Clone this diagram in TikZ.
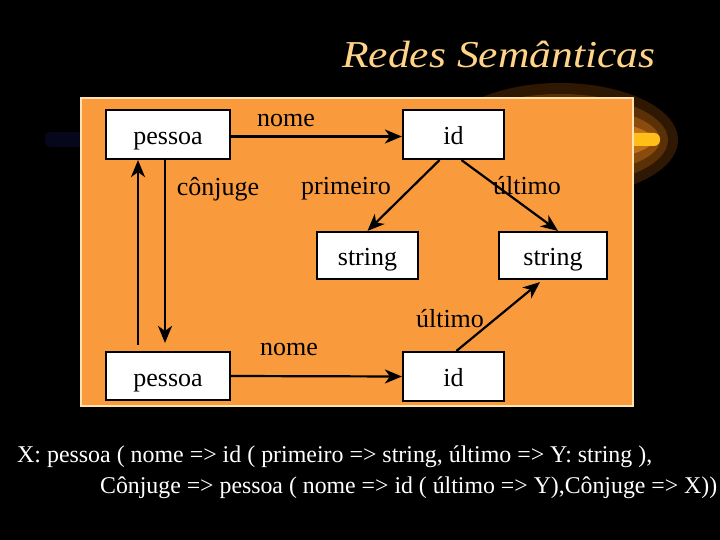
\documentclass[tikz,border=0pt]{standalone}
\usepackage{fontspec}
\setmainfont{Liberation Serif}
\usetikzlibrary{arrows.meta}
\definecolor{panel}{HTML}{F99A3C}
\definecolor{paneledge}{HTML}{FFE2B0}
\definecolor{titlecol}{HTML}{FFD488}
\definecolor{sw1}{HTML}{2E1703}
\definecolor{sw2}{HTML}{5A3006}
\definecolor{sw3}{HTML}{8A4C0C}
\definecolor{sw4}{HTML}{BE7016}
\definecolor{sw5}{HTML}{FFBE1A}
\definecolor{navy}{HTML}{07071C}
\begin{document}
\begin{tikzpicture}[x=1pt,y=-1pt,
  box/.style={draw=black,fill=white,line width=2.2pt,inner sep=0pt,
    text height=20pt,text depth=0pt,font=\fontsize{26}{30}\selectfont},
  lbl/.style={anchor=base,inner sep=0pt,font=\fontsize{26}{30}\selectfont},
  arr/.style={line width=2.2pt,-{Stealth[length=17pt,width=14pt,inset=5pt]}},
  bottomtxt/.style={anchor=base west,inner sep=0pt,text=white}]
\fill[black] (0,0) rectangle (720,540);
\useasboundingbox (0,0) rectangle (720,540);
% decorative swoosh
\fill[sw1] (560,140) ellipse [x radius=118pt, y radius=57pt];
\fill[sw2] (560,140) ellipse [x radius=108pt, y radius=46pt];
\fill[sw3] (560,140) ellipse [x radius=100pt, y radius=35pt];
\fill[sw4] (560,140) ellipse [x radius=93pt, y radius=22pt];
\fill[sw5, rounded corners=6pt] (610,133) rectangle (660,146);
\fill[navy, rounded corners=5pt] (45,132) rectangle (90,147);
% title
\node[anchor=base west,inner sep=0pt,text=titlecol] (title) at (342,68)
  {\resizebox{313pt}{\height}{\fontsize{38}{44}\selectfont\itshape Redes Semânticas}};
% panel
\filldraw[fill=panel,draw=paneledge,line width=1.5pt] (81,98) rectangle (633,406);
% nodes
\node[box,minimum width=124pt,minimum height=49pt] (p1) at (168,134.5) {pessoa};
\node[box,minimum width=101pt,minimum height=49pt] (i1) at (453.5,134.5) {id};
\node[box,minimum width=101pt,minimum height=47pt] (s1) at (367.5,255.5) {string};
\node[box,minimum width=108pt,minimum height=47pt] (s2) at (553,255.5) {string};
\node[box,minimum width=124pt,minimum height=48pt] (p2) at (168,376) {pessoa};
\node[box,minimum width=101pt,minimum height=49pt] (i2) at (453.5,376.5) {id};
% connectors
\draw[arr] ([yshift=-2pt]p1.east) -- ([yshift=-2pt]i1.west);
\draw[arr] ([xshift=-3pt]p1.south) -- ([xshift=-3pt,yshift=8pt]p2.north);
\draw[arr] ([xshift=-30pt,yshift=6pt]p2.north) -- ([xshift=-30pt]p1.south);
\draw[arr] ([xshift=-14pt]i1.south) -- (s1.north);
\draw[arr] ([xshift=8pt]i1.south) -- ([xshift=5pt]s2.north);
\draw[arr] (p2.east) -- (i2.west);
\draw[arr] ([xshift=3pt]i2.north) -- ([xshift=-13pt,yshift=-2pt]s2.south);
% labels
\node[lbl] (lnome1) at (286,127) {nome};
\node[lbl] (lconj) at (218,196) {cônjuge};
\node[lbl] (lprim) at (346,195) {primeiro};
\node[lbl] (lult1) at (527,195) {último};
\node[lbl] (lult2) at (450,327) {último};
\node[lbl] (lnome2) at (289,355) {nome};
% bottom text
\node[bottomtxt] (line1) at (17,462)
  {\resizebox{635pt}{\height}{\fontsize{24}{28}\selectfont X: pessoa ( nome => id ( primeiro => string, último => Y: string ),}};
\node[bottomtxt] (line2) at (100,493)
  {\resizebox{617pt}{\height}{\fontsize{24}{28}\selectfont Cônjuge => pessoa ( nome => id ( último => Y),Cônjuge => X))}};
\end{tikzpicture}
\end{document}
